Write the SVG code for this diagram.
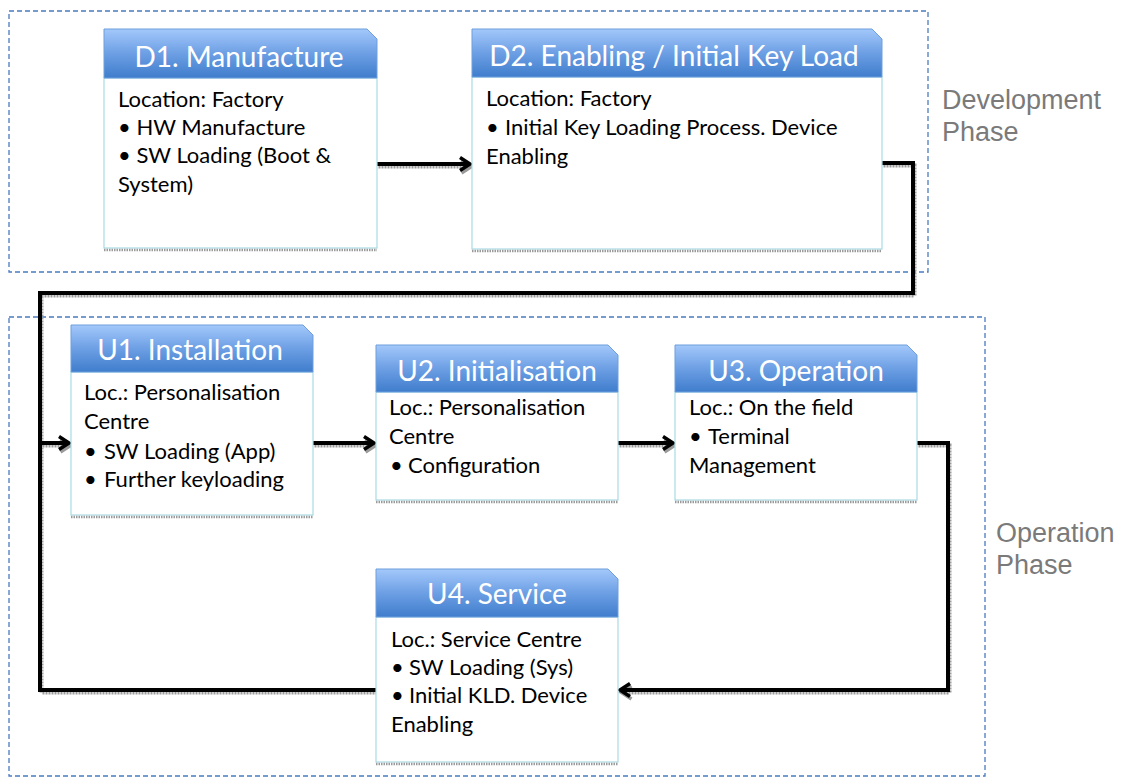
<svg xmlns="http://www.w3.org/2000/svg" width="1128" height="778" viewBox="0 0 1128 778">
<defs>
<linearGradient id="hdr" x1="0" y1="0" x2="0" y2="1">
<stop offset="0" stop-color="#a3c8fb"/>
<stop offset="0.5" stop-color="#6d9fe4"/>
<stop offset="1" stop-color="#3f7dcc"/>
</linearGradient>
<marker id="arr" markerUnits="userSpaceOnUse" markerWidth="16" markerHeight="18" refX="12" refY="8" orient="auto">
<path d="M2,1.5 L12,8 L2,14.5" fill="none" stroke="#000" stroke-width="3.5" stroke-linejoin="miter"/>
</marker>
<marker id="arrs" markerUnits="userSpaceOnUse" markerWidth="16" markerHeight="18" refX="12" refY="8" orient="auto">
<path d="M2,1.5 L12,8 L2,14.5" fill="none" stroke="#9a9a9a" stroke-width="3.5"/>
</marker>
</defs>
<style>
.frame{fill:none;stroke:#4a7bbf;stroke-width:1.3;stroke-dasharray:5 3}
.hdr{fill:url(#hdr);stroke:#6f9fdc;stroke-width:1}
.body{fill:#fff;stroke:#a8dbe3;stroke-width:1.2}
.bsh{stroke:#9a9a9a;stroke-width:2.5;stroke-dasharray:1.5 1}
.ht{font-family:Lato,"Liberation Sans",sans-serif;font-size:28px;fill:#fff;text-anchor:middle}
.bt{font-family:Lato,"Liberation Sans",sans-serif;font-size:22px;fill:#000}
.ph{font-family:"Liberation Sans",Arial,sans-serif;font-size:27px;fill:#7a7a7a}
.con{fill:none;stroke:#000;stroke-width:4}
.sh{fill:none;stroke:#9a9a9a;stroke-width:4;stroke-dasharray:2 1}
</style>
<rect class="frame" x="9" y="11" width="919" height="261"/>
<rect class="frame" x="9" y="317" width="976" height="459"/>
<text class="ph" x="942" y="109">Development</text>
<text class="ph" x="942" y="141">Phase</text>
<text class="ph" x="996" y="542">Operation</text>
<text class="ph" x="996" y="574">Phase</text>

<g id="connectors">
<g transform="translate(1.5,2.5)">
<path class="sh" d="M377,164 H470" marker-end="url(#arrs)"/>
<path class="sh" d="M882,163 H913 V293 H40 V443 H69" marker-end="url(#arrs)"/>
<path class="sh" d="M313,443 H374" marker-end="url(#arrs)"/>
<path class="sh" d="M618,443 H673" marker-end="url(#arrs)"/>
<path class="sh" d="M917,443 H948 V690 H620" marker-end="url(#arrs)"/>
<path class="sh" d="M376,690 H40 V443"/>
</g>
<path class="con" d="M377,164 H470" marker-end="url(#arr)"/>
<path class="con" d="M882,163 H913 V293 H40 V443 H69" marker-end="url(#arr)"/>
<path class="con" d="M313,443 H374" marker-end="url(#arr)"/>
<path class="con" d="M618,443 H673" marker-end="url(#arr)"/>
<path class="con" d="M917,443 H948 V690 H620" marker-end="url(#arr)"/>
<path class="con" d="M376,690 H40 V443"/>
</g>

<g id="D1">
<rect class="body" x="104" y="78" width="273" height="170"/>
<line class="bsh" x1="104" y1="250" x2="377" y2="250"/>
<path class="hdr" d="M104,78 V29 H367 L377,39 V78 Z"/>
<text class="ht" x="239" y="67">D1. Manufacture</text>
<text class="bt" x="118" y="107">Location: Factory</text>
<text class="bt" x="118" y="135">• HW Manufacture</text>
<text class="bt" x="118" y="163">• SW Loading (Boot &amp;</text>
<text class="bt" x="118" y="192">System)</text>
</g>

<g id="D2">
<rect class="body" x="472" y="77" width="410" height="172"/>
<line class="bsh" x1="472" y1="251" x2="882" y2="251"/>
<path class="hdr" d="M472,77 V29 H872 L882,39 V77 Z"/>
<text class="ht" x="674" y="66">D2. Enabling / Initial Key Load</text>
<text class="bt" x="486" y="106">Location: Factory</text>
<text class="bt" x="486" y="135">•</text>
<text class="bt" x="505" y="135">Initial Key Loading Process. Device</text>
<text class="bt" x="486" y="164">Enabling</text>
</g>

<g id="U1">
<rect class="body" x="71" y="372" width="242" height="143"/>
<line class="bsh" x1="71" y1="517" x2="313" y2="517"/>
<path class="hdr" d="M71,372 V325 H303 L313,335 V372 Z"/>
<text class="ht" x="190" y="360">U1. Installation</text>
<text class="bt" x="84" y="400">Loc.: Personalisation</text>
<text class="bt" x="84" y="429">Centre</text>
<text class="bt" x="84" y="459">•</text>
<text class="bt" x="104" y="459">SW Loading (App)</text>
<text class="bt" x="84" y="487">•</text>
<text class="bt" x="104" y="487">Further keyloading</text>
</g>

<g id="U2">
<rect class="body" x="376" y="392" width="242" height="108"/>
<line class="bsh" x1="376" y1="502" x2="618" y2="502"/>
<path class="hdr" d="M376,392 V345 H608 L618,355 V392 Z"/>
<text class="ht" x="497" y="381">U2. Initialisation</text>
<text class="bt" x="389" y="415">Loc.:  Personalisation</text>
<text class="bt" x="389" y="444">Centre</text>
<text class="bt" x="390" y="473">•</text>
<text class="bt" x="408" y="473">Configuration</text>
</g>

<g id="U3">
<rect class="body" x="675" y="392" width="242" height="108"/>
<line class="bsh" x1="675" y1="502" x2="917" y2="502"/>
<path class="hdr" d="M675,392 V345 H907 L917,355 V392 Z"/>
<text class="ht" x="796" y="381">U3. Operation</text>
<text class="bt" x="689" y="415">Loc.: On the field</text>
<text class="bt" x="689" y="444">•</text>
<text class="bt" x="708" y="444">Terminal</text>
<text class="bt" x="689" y="473">Management</text>
</g>

<g id="U4">
<rect class="body" x="376" y="617" width="242" height="145"/>
<line class="bsh" x1="376" y1="764" x2="618" y2="764"/>
<path class="hdr" d="M376,617 V569 H608 L618,579 V617 Z"/>
<text class="ht" x="497" y="604">U4. Service</text>
<text class="bt" x="391" y="647">Loc.: Service Centre</text>
<text class="bt" x="391" y="675">•</text>
<text class="bt" x="409" y="675">SW Loading (Sys)</text>
<text class="bt" x="391" y="703">•</text>
<text class="bt" x="409" y="703">Initial KLD. Device</text>
<text class="bt" x="391" y="732">Enabling</text>
</g>
</svg>
